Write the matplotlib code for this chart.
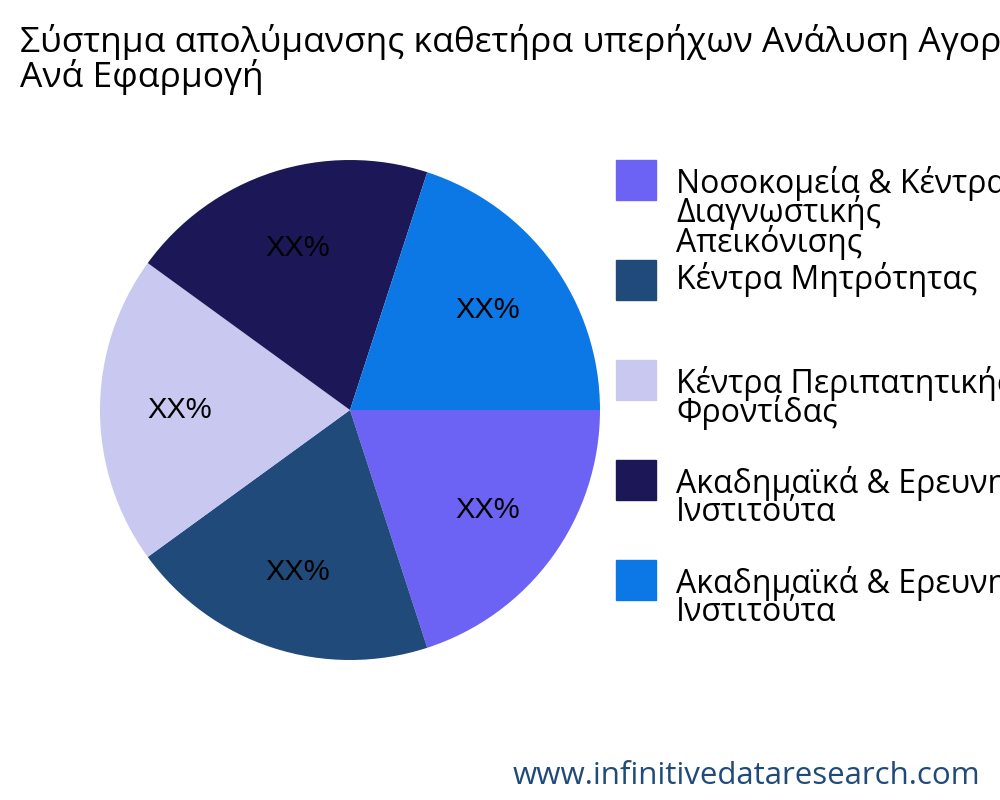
import matplotlib
matplotlib.use("Agg")
import matplotlib.pyplot as plt

title = "Σύστημα απολύμανσης καθετήρα υπερήχων Ανάλυση Αγοράς\nΑνά Εφαρμογή"
categories = ["Νοσοκομεία & Κέντρα\nΔιαγνωστικής\nΑπεικόνισης", "Κέντρα Μητρότητας",
              "Κέντρα Περιπατητικής\nΦροντίδας", "Ακαδημαϊκά & Ερευνητικά\nΙνστιτούτα",
              "Ακαδημαϊκά & Ερευνητικά\nΙνστιτούτα"]
values = [20, 20, 20, 20, 20]
labels = ["XX%"] * 5
colors = ["#6c63f5", "#1f4a7a", "#c8c8f0", "#1c1858", "#0b78e6"]

fig = plt.figure(figsize=(10, 8), dpi=100)
ax = fig.add_axes([0.1, 0.175, 0.5, 0.625])
it = iter(labels)
ax.pie(values, colors=colors, startangle=0, counterclock=False,
       autopct=lambda p: next(it), pctdistance=0.68,
       textprops=dict(fontsize=21, family="Liberation Sans"))
ax.set_xlim(-1, 1); ax.set_ylim(-1, 1)
ax.set_aspect("equal")
fig.text(0.02, 0.97, title, fontsize=25.5, family="Open Sans", va="top", ha="left", linespacing=0.95)

ys = [0.775, 0.65, 0.525, 0.40, 0.275]
for c, cat, y in zip(colors, categories, ys):
    fig.patches.append(plt.Rectangle((0.616, y - 0.025), 0.04, 0.05, color=c, transform=fig.transFigure))
    n = cat.count("\n")
    t = {0: y + 0.022, 1: y + 0.018, 2: y + 0.018}[n]
    fig.text(0.676, t, cat, fontsize=23, family="Open Sans", va="top", ha="left", linespacing=0.8)
fig.text(0.98, 0.03, "www.infinitivedataresearch.com", fontsize=22.5, family="Open Sans",
         color="#1f4a7a", ha="right", va="center")
fig.savefig("out.png")
